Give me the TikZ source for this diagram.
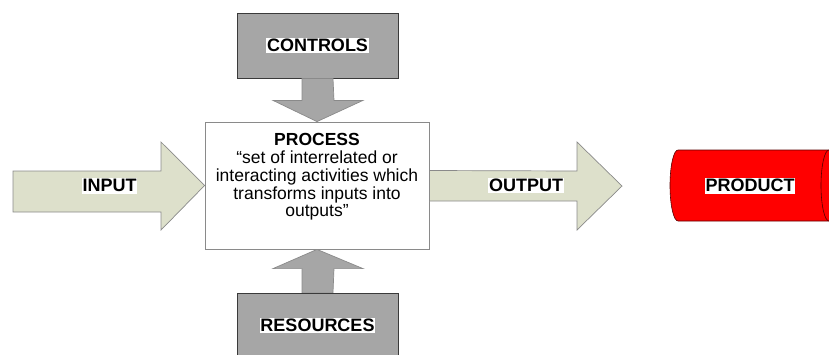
\documentclass[tikz,border=0pt]{standalone}
\usepackage{fontspec}
\setmainfont{Liberation Sans}
\usetikzlibrary{calc}

\definecolor{arrowfill}{HTML}{DDE0CB}
\definecolor{arrowline}{HTML}{8A8A8A}
\definecolor{boxgray}{HTML}{A6A6A6}
\definecolor{boxline}{HTML}{3A3A3A}
\definecolor{prodred}{HTML}{FF0000}
\definecolor{prodline}{HTML}{5A0000}

\begin{document}
\begin{tikzpicture}[x=1pt,y=-1pt,
  greybox/.style={draw=boxline, fill=boxgray, line width=0.8pt,
    minimum width=161pt, minimum height=65pt, inner sep=0pt},
  procbox/.style={draw=arrowline, fill=white, line width=0.8pt,
    minimum width=224pt, minimum height=127pt, inner sep=0pt},
  flowarrow/.style={draw=arrowline, fill=arrowfill, line width=0.7pt, line join=miter},
  feedarrow/.style={draw=arrowline, fill=boxgray, line width=0.7pt, line join=miter},
  tag/.style={fill=white, inner xsep=0.6pt, inner ysep=0.8pt,
    text height=12.5pt, text depth=1pt,
    font=\fontsize{18}{18}\selectfont\bfseries},
  proctext/.style={align=center, inner sep=0pt,
    font=\fontsize{17.5}{17.7}\selectfont}]

\useasboundingbox (0,0) rectangle (829,354);
\clip (0,0) rectangle (829,354);

% blocks
\node[greybox] (controls) at (317.5,45.5) {};
\node[procbox] (process) at (317,185.5) {};
\node[greybox] (resources) at (317.5,325.5) {};

% controls feed down into the process
\draw[feedarrow] ($(controls.south)+(-15.5,0)$) -- ++(0,22) -- ++(-29,0)
  -- (process.north) -- ($(controls.south)+(45.5,22)$) -- ++(-29,0)
  -- ($(controls.south)+(15.5,0)$) -- cycle;

% resources feed up into the process
\draw[feedarrow] ($(resources.north)+(-15.5,0)$) -- ++(0,-24) -- ++(-29,0)
  -- (process.south) -- ($(resources.north)+(45.5,-24)$) -- ++(-29,0)
  -- ($(resources.north)+(15.5,0)$) -- cycle;

% input arrow
\draw[flowarrow] (13,171) -- (161,171) -- (161,142) -- (process.west)
  -- (161,230) -- (161,212) -- (13,212) -- cycle;

% output arrow
\coordinate (outTip) at (622,186);
\draw[flowarrow] ($(process.east)+(0,-15)$) -- (577,171) -- (577,142) -- (outTip)
  -- (577,230) -- (577,201) -- ($(process.east)+(0,15.5)$) -- cycle;

% product cylinder lying on its side
\fill[prodred] (678,150) -- (837,150) -- (837,221) -- (678,221)
  arc[start angle=90, end angle=270, x radius=8, y radius=35.5] -- cycle;
\draw[prodline, line width=0.6pt] (837,150) -- (678,150)
  arc[start angle=270, end angle=90, x radius=8, y radius=35.5] -- (837,221);
\draw[prodline, line width=0.6pt, fill=prodred] (829,185.5) ellipse[x radius=8, y radius=35.5];

% labels
\node[tag] (controlsLabel) at (controls) {CONTROLS};
\node[tag] (resourcesLabel) at (resources) {RESOURCES};
\node[tag] (inputLabel) at (109.5,186) {INPUT};
\node[tag] (outputLabel) at (526,185.5) {OUTPUT};
\node[tag] (productLabel) at (750,186) {PRODUCT};
\node[proctext, anchor=north] (processText) at (317,133.5)
  {\textbf{PROCESS}\\“set of interrelated or\\interacting activities which\\transforms inputs into\\outputs”};
\end{tikzpicture}
\end{document}
